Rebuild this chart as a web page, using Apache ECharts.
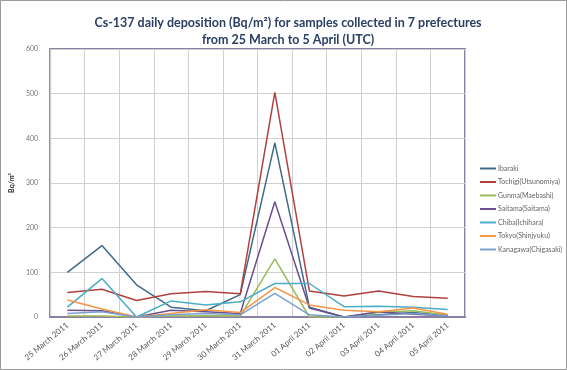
<!DOCTYPE html>
<html><head><meta charset="utf-8">
<script src="https://cdn.jsdelivr.net/npm/echarts@6/dist/echarts.min.js"></script>
<style>html,body{margin:0;padding:0;background:#fff}#c{width:567px;height:370px}</style>
</head><body><div id="c"></div>
<script>
const categories = ['25 March 2011','26 March 2011','27 March 2011','28 March 2011','29 March 2011','30 March 2011','31 March 2011','01 April 2011','02 April 2011','03 April 2011','04 April 2011','05 April 2011'];
const seriesNames = ['Ibaraki','Tochigi(Utsunomiya)','Gunma(Maebashi)','Saitama(Saitama)','Chiba(Ichihara)','Tokyo(Shinjyuku)','Kanagawa(Chigasaki)'];
const ibaraki  = [100,160,72,22,14,50,390,22,0,5,10,3];
const tochigi  = [55,62,37,52,57,52,503,58,47,58,46,42];
const gunma    = [2,2,0,2,3,2,130,0,0,10,14,4];
const saitama  = [15,14,0,15,12,8,258,20,0,12,6,3];
const chiba    = [22,86,0,36,27,34,75,75,23,24,22,17];
const tokyo    = [38,18,0,8,16,10,66,27,15,12,20,6];
const kanagawa = [8,12,0,5,8,5,53,5,0,4,8,2];
const yTicks = [0,100,200,300,400,500,600];

const values = [ibaraki,tochigi,gunma,saitama,chiba,tokyo,kanagawa];
const colors = ['#3f6a8a','#b0413e','#9bbb59','#6a4f8c','#4bacc6','#f79646','#7ba0cd'];

const chart = echarts.init(document.getElementById('c'));
chart.setOption({
  backgroundColor:'#fff',
  animation:false,
  color: colors,
  title:{
    text:'Cs-137 daily deposition (Bq/m²) for samples collected in 7 prefectures\nfrom 25 March to 5 April (UTC)',
    left:283, top:9, textAlign:'center',
    textStyle:{fontFamily:'Lato', fontWeight:'bold', fontSize:12.5, color:'#2a4065', lineHeight:17}
  },
  legend:{
    orient:'vertical', left:475, top:159,
    icon:'rect', itemWidth:16, itemHeight:2, itemGap:4.5,
    textStyle:{fontFamily:'Lato', fontSize:7, color:'#666', lineHeight:9, padding:[0,0,0,-3]},
    data: seriesNames
  },
  grid:{left:40, right:102, top:49, bottom:53, show:true, borderColor:'#8c7fa6', borderWidth:2},
  xAxis:{
    type:'category', data:categories, boundaryGap:true,
    axisLine:{show:true, lineStyle:{color:'#8c7fa6', width:2}},
    axisTick:{show:false},
    splitLine:{show:true, lineStyle:{color:'#d0d0d0', width:1}},
    axisLabel:{rotate:40, fontSize:8, color:'#555', fontFamily:'Lato', margin:7, interval:0}
  },
  yAxis:{
    type:'value', min:yTicks[0], max:yTicks[yTicks.length-1], interval:100,
    name:'Bq/m²', nameLocation:'middle', nameGap:24, nameRotate:90,
    nameTextStyle:{fontFamily:'Lato', fontWeight:'bold', fontSize:7, color:'#333'},
    axisLine:{show:false}, axisTick:{show:false},
    splitLine:{show:true, lineStyle:{color:'#d0d0d0', width:1}},
    axisLabel:{fontSize:7, color:'#777', fontFamily:'Lato', margin:12}
  },
  series: seriesNames.map((n,i)=>({
    name:n, type:'line', data:values[i], showSymbol:false, symbol:'none',
    lineStyle:{width:1.5, color:colors[i]}
  })),
  graphic:[{type:'rect', shape:{x:0.5,y:0.5,width:566,height:369}, style:{fill:'none', stroke:'#999', lineWidth:1}, silent:true}]
});
</script></body></html>
